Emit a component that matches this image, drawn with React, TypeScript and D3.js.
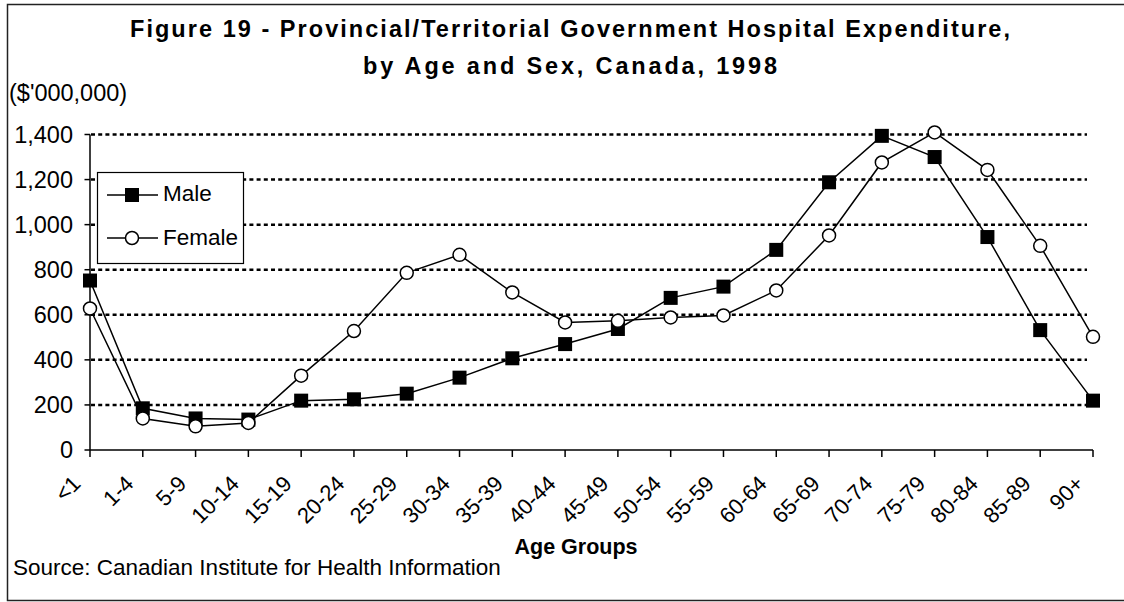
import React from 'react'
import * as d3 from 'd3'

const ageGroups = ['<1', '1-4', '5-9', '10-14', '15-19', '20-24', '25-29', '30-34', '35-39', '40-44', '45-49', '50-54', '55-59', '60-64', '65-69', '70-74', '75-79', '80-84', '85-89', '90+']
const male = [752, 185, 140, 135, 219, 225, 250, 321, 407, 470, 537, 675, 725, 888, 1188, 1394, 1300, 945, 532, 219]
const female = [628, 140, 105, 120, 330, 528, 786, 866, 699, 566, 573, 588, 597, 708, 952, 1276, 1409, 1243, 906, 502]
const yTicks = [0, 200, 400, 600, 800, 1000, 1200, 1400]

const font = 'Arial, "Liberation Sans", Helvetica, sans-serif'

const App: React.FC = () => {
  const W = 1124
  const H = 602
  const x = d3.scalePoint<string>().domain(ageGroups).range([90, 1093])
  const y = d3.scaleLinear().domain([0, 1400]).range([450, 134.5])

  const line = d3
    .line<number>()
    .x((_, i) => x(ageGroups[i])!)
    .y((d) => y(d))

  return (
    <svg
      width={W}
      height={H}
      style={{ position: 'absolute', left: 0, top: 0, background: '#fff' }}
      fontFamily={font}
    >
      {/* frame, right side runs off the page */}
      <path d={`M1130,4.5 H7.5 V600.5 H1130`} fill="none" stroke="#222" strokeWidth={1.5} />

      {/* title */}
      <text x={570} y={37} textAnchor="middle" fontSize={23.5} fontWeight="bold" textLength={880} lengthAdjust="spacing">
        Figure 19 - Provincial/Territorial Government Hospital Expenditure,
      </text>
      <text x={570} y={74} textAnchor="middle" fontSize={23.5} fontWeight="bold" textLength={414} lengthAdjust="spacing">
        by Age and Sex, Canada, 1998
      </text>
      <text x={9} y={101} fontSize={23.5}>
        ($'000,000)
      </text>

      {/* gridlines */}
      {yTicks
        .filter((t) => t > 0)
        .map((t) => (
          <line key={t} x1={91} x2={1087} y1={y(t)} y2={y(t)} stroke="#000" strokeWidth={2.5} strokeDasharray="4 3.2" />
        ))}

      {/* y axis */}
      <line x1={90} x2={90} y1={y(1400)} y2={y(0)} stroke="#000" strokeWidth={1.5} />
      {yTicks.map((t) => (
        <g key={t}>
          <line x1={84.5} x2={90} y1={y(t)} y2={y(t)} stroke="#000" strokeWidth={1.5} />
          <text x={73} y={y(t)} dy="0.36em" textAnchor="end" fontSize={23.5}>
            {d3.format(',')(t)}
          </text>
        </g>
      ))}

      {/* x axis */}
      <line x1={90} x2={1093} y1={y(0)} y2={y(0)} stroke="#000" strokeWidth={1.5} />
      {ageGroups.map((g) => (
        <g key={g}>
          <line x1={x(g)} x2={x(g)} y1={y(0)} y2={y(0) + 7} stroke="#000" strokeWidth={1.5} />
          <text
            transform={`translate(${x(g)! - 8},${485}) rotate(-45)`}
            textAnchor="end"
            fontSize={22}
          >
            {g}
          </text>
        </g>
      ))}
      <text x={576} y={554} textAnchor="middle" fontSize={21.5} fontWeight="bold">
        Age Groups
      </text>
      <text x={13} y={575} fontSize={22.5}>
        Source: Canadian Institute for Health Information
      </text>

      {/* series */}
      <path d={line(female)!} fill="none" stroke="#000" strokeWidth={1.5} />
      <path d={line(male)!} fill="none" stroke="#000" strokeWidth={1.5} />
      {male.map((v, i) => (
        <rect key={'m' + i} x={x(ageGroups[i])! - 7} y={y(v) - 7} width={14} height={14} fill="#000" />
      ))}
      {female.map((v, i) => (
        <circle key={'f' + i} cx={x(ageGroups[i])!} cy={y(v)} r={6.5} fill="#fff" stroke="#000" strokeWidth={1.5} />
      ))}

      {/* legend */}
      <rect x={97.5} y={172.5} width={146} height={91} fill="#fff" stroke="#000" strokeWidth={1.2} />
      <line x1={107} x2={158} y1={195} y2={195} stroke="#000" strokeWidth={1.5} />
      <rect x={125} y={188} width={14} height={14} fill="#000" />
      <text x={163} y={201} fontSize={22.5}>
        Male
      </text>
      <line x1={107} x2={158} y1={238} y2={238} stroke="#000" strokeWidth={1.5} />
      <circle cx={132} cy={238} r={6.5} fill="#fff" stroke="#000" strokeWidth={1.5} />
      <text x={163} y={245} fontSize={22.5}>
        Female
      </text>
    </svg>
  )
}

export default App
